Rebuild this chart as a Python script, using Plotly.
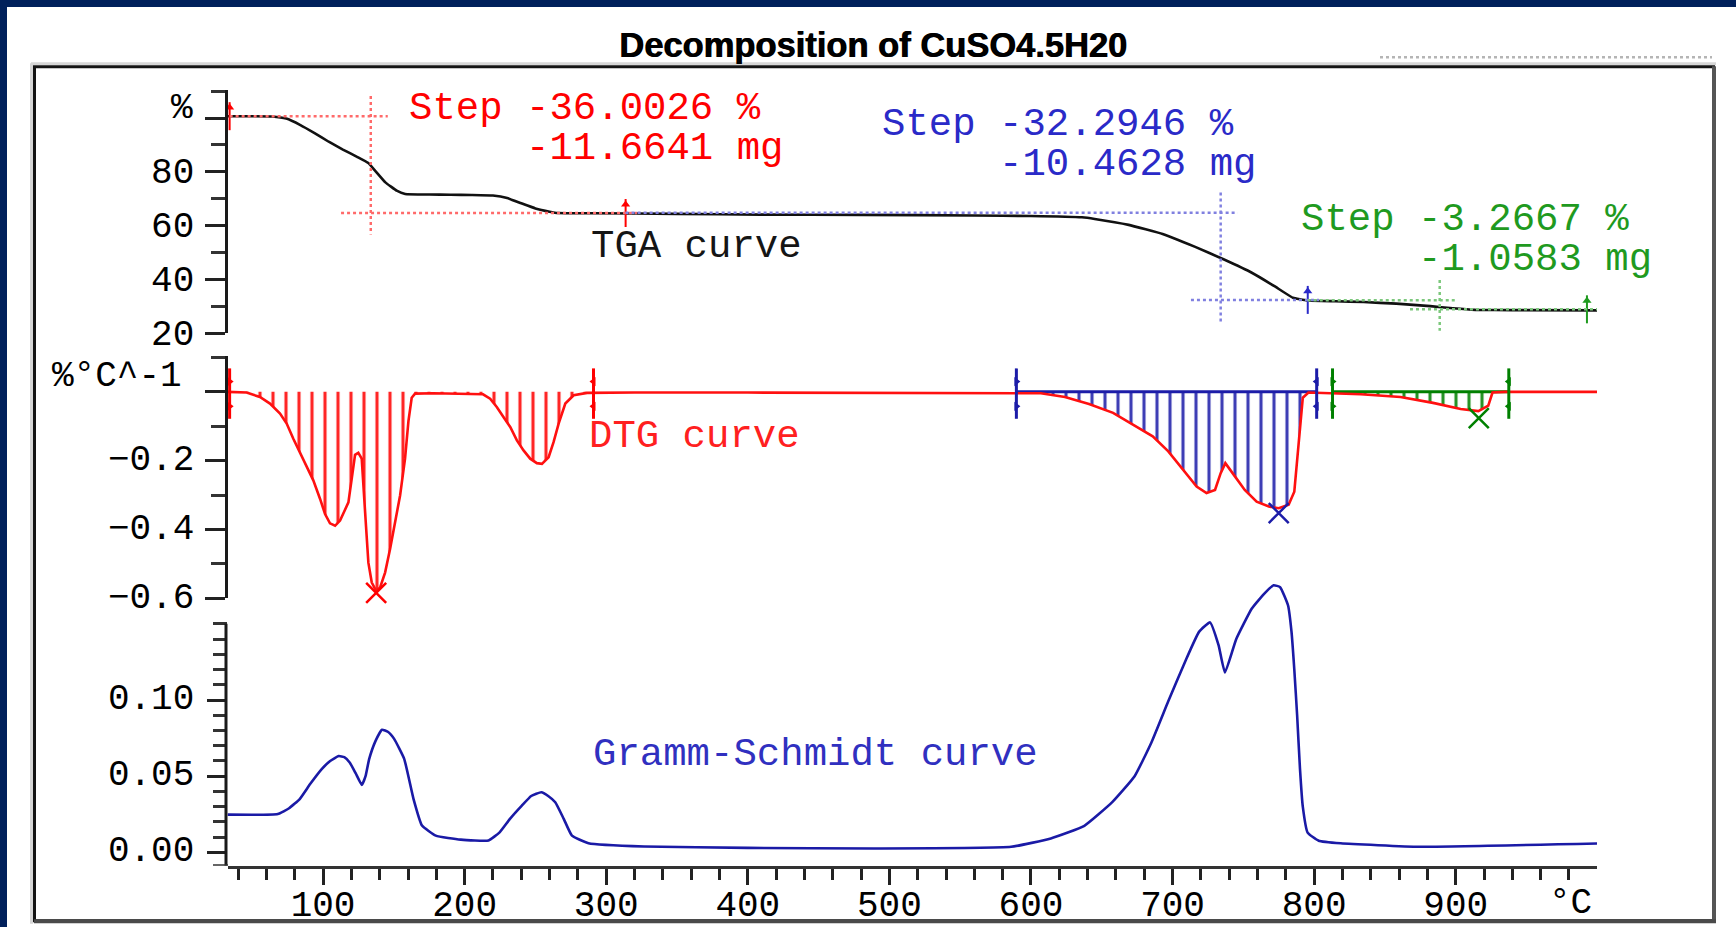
import plotly.graph_objects as go

W = 1736
H = 950                      # page height of the figure
EFF = H * 936 / 962          # height it occupies in the photographed picture


def px(x):
    return x / W


def py(y):
    return 1 - y / EFF


# ---------------- data ----------------
# TGA curve (temperature in degC, mass in %)
tga_T = [32.5, 50, 64, 74, 84, 94, 104, 114, 124, 132, 137, 144, 152, 158, 175,
         190, 205, 220, 230, 240, 250, 260, 266, 290, 350, 409, 480, 560, 600,
         636, 645, 669, 693, 716, 736, 756, 772, 785, 795, 815, 835, 858, 882,
         898, 914, 940, 1000]
tga_v = [100.7, 100.7, 100.6, 99.8, 97.4, 94.4, 91.2, 88.3, 85.6, 83.3, 80.3,
         76.1, 73.0, 71.8, 71.6, 71.5, 71.4, 71.2, 70.3, 68.3, 66.4, 65.2, 64.7,
         64.6, 64.4, 64.1, 64.0, 63.8, 63.6, 63.1, 62.5, 60.3, 56.9, 52.1, 47.5,
         42.5, 37.5, 33.2, 32.2, 31.9, 31.6, 31.0, 30.1, 29.3, 28.7, 28.6, 28.5]

# DTG curve (%/degC)
dtg_T = [32.5, 36.6, 46, 55.4, 62.5, 69.6, 74.3, 79, 83.7, 88.4,
         93.1, 97.9, 101.4, 104.9, 108.5, 112, 115.5, 117.9, 120.2, 122.6,
         124.9, 127.3, 129.7, 132, 134.4, 137.5, 140.3, 143.8, 147.3, 150.9,
         154.4, 157.9, 160.3, 162.6, 165, 178, 213, 218, 222.7, 227.4,
         232.2, 236.9, 241.6, 246.3, 251, 254.6, 259.3, 262.8, 266.4, 271.1,
         277, 286.5, 320, 400, 500, 560, 590, 607, 624, 641,
         658, 672, 686, 697, 708.5, 717, 724, 730, 734, 737.3,
         742.4, 751, 759.4, 768, 775, 782, 786, 789, 792, 796,
         813, 833, 861, 884, 903.5, 916, 923, 926, 935, 960,
         1000]
dtg_v = [0.0, 0.0, -0.002, -0.015, -0.034, -0.063, -0.092, -0.136, -0.175, -0.214,
         -0.257, -0.311, -0.355, -0.382, -0.389, -0.374, -0.345, -0.321, -0.253, -0.183,
         -0.177, -0.194, -0.35, -0.496, -0.554, -0.578, -0.568, -0.525, -0.457, -0.379,
         -0.301, -0.194, -0.085, -0.017, -0.005, -0.004, -0.007, -0.02, -0.044, -0.073,
         -0.102, -0.141, -0.17, -0.194, -0.207, -0.209, -0.19, -0.146, -0.092, -0.034,
         -0.01, -0.003, -0.002, -0.002, -0.002, -0.002, -0.002, -0.004, -0.015, -0.035,
         -0.061, -0.095, -0.129, -0.173, -0.231, -0.275, -0.294, -0.285, -0.236, -0.207,
         -0.236, -0.285, -0.319, -0.333, -0.338, -0.328, -0.29, -0.153, -0.017, -0.002,
         -0.004, -0.007, -0.015, -0.032, -0.05, -0.056, -0.04, -0.002, 0.0, 0.0,
         0.0]

# Gramm-Schmidt curve
gs_T = [32.5, 68, 76, 83.5, 91, 99.2, 105, 111, 115, 118.8,
        123, 127.4, 130, 132.5, 137, 141.6, 146, 150.2, 157.3, 163.9,
        169.9, 179.6, 197.3, 216.9, 224.7, 232, 240.4, 247, 254.2, 259,
        264, 270, 275.8, 287.5, 326.7, 400, 489, 586, 614, 637.7,
        657.4, 673.2, 685, 696.9, 708.8, 718.7, 726.5, 732.5, 737, 745,
        756, 765, 771.4, 776, 781.6, 784, 786, 788, 790, 792,
        795.4, 803.2, 818.8, 874.4, 1000]
gs_v = [0.0248, 0.0252, 0.029, 0.035, 0.045, 0.0548, 0.060, 0.0632, 0.0625, 0.059,
        0.052, 0.0443, 0.050, 0.061, 0.073, 0.0805, 0.079, 0.0745, 0.0614, 0.035,
        0.0176, 0.011, 0.0084, 0.0079, 0.0132, 0.022, 0.0307, 0.037, 0.0395, 0.037,
        0.0329, 0.022, 0.011, 0.0061, 0.0039, 0.003, 0.0026, 0.0037, 0.0092, 0.0175,
        0.033, 0.05, 0.072, 0.099, 0.125, 0.1447, 0.1509, 0.136, 0.118, 0.140,
        0.160, 0.170, 0.1753, 0.174, 0.162, 0.145, 0.12, 0.09, 0.055, 0.03,
        0.013, 0.0077, 0.006, 0.0037, 0.0059]

# Step evaluation (TGA)
step_colors = ["#ff0000", "#2a2ac8", "#1f9a1f"]
step_dot_colors = ["#ff6a6a", "#8080e0", "#7cc87c"]
step_left_T = [34, 313.7, 795.5]
step_right_T = [313.7, 795.5, 992.7]
step_mid_T = [133.7, 734, 888.7]
step_upper = [100.7, 64.8, 32.3]
step_lower = [64.7, 32.4, 28.9]
step_pct = ["-36.0026", "-32.2946", "-3.2667"]
step_mg = ["-11.6641", "-10.4628", "-1.0583"]

# DTG integration ranges and peaks
dtg_colors = ["#ff0000", "#1c1ca8", "#008000"]
dtg_start_T = [34, 589.7, 813]
dtg_end_T = [291, 801.8, 937.5]
dtg_peak_T = [137.5, 775, 916.3]
dtg_peak_v = [-0.584, -0.352, -0.076]

# axes ticks
x_major = [100, 200, 300, 400, 500, 600, 700, 800, 900]
tga_ticks = [20, 40, 60, 80, 100]
tga_labels = ["20", "40", "60", "80", ""]
dtg_ticks = [0, -0.2, -0.4, -0.6]
dtg_labels = ["", "\u22120.2", "\u22120.4", "\u22120.6"]
gs_ticks = [0.0, 0.05, 0.10]
gs_labels = ["0.00", "0.05", "0.10"]
gs_minor = [0.01, 0.02, 0.03, 0.04, 0.06, 0.07, 0.08, 0.09, 0.11, 0.12, 0.13, 0.14, 0.15]

GS_MIN, GS_AXTOP, GS_TOP = -0.0087, 0.15, 0.19

# ---------------- figure ----------------
fig = go.Figure()
MONO = "Liberation Mono"
NBSP = "\u00a0"

# DTG hatched areas
for c, a, b in zip(dtg_colors, dtg_start_T, dtg_end_T):
    xs = [t for t in dtg_T if a <= t <= b]
    ys = [v for t, v in zip(dtg_T, dtg_v) if a <= t <= b]
    fig.add_trace(go.Scatter(
        x=xs, y=ys, xaxis="x", yaxis="y2", mode="lines",
        line=dict(width=0, color=c), fill="tozeroy", fillcolor="rgba(0,0,0,0)",
        fillpattern=dict(shape="|", fgcolor=c, size=13, solidity=0.24,
                         fgopacity=0.85, fillmode="replace",
                         bgcolor="rgba(0,0,0,0)"),
        hoverinfo="skip", showlegend=False))
    if c != dtg_colors[0]:
        fig.add_trace(go.Scatter(
            x=[a, b], y=[0, 0], xaxis="x", yaxis="y2", mode="lines",
            line=dict(width=3, color=c), showlegend=False, hoverinfo="skip"))

# DTG curve
fig.add_trace(go.Scatter(x=dtg_T, y=dtg_v, xaxis="x", yaxis="y2", mode="lines",
                         line=dict(color="#ff1010", width=2.6),
                         showlegend=False))

# DTG brackets and peak markers
for c, a, b, pt, pv in zip(dtg_colors, dtg_start_T, dtg_end_T, dtg_peak_T, dtg_peak_v):
    fig.add_trace(go.Scatter(
        x=[a, b], y=[-0.005, -0.005], xaxis="x", yaxis="y2", mode="markers",
        marker=dict(symbol="line-ns", size=36, color=c, line=dict(width=3, color=c)),
        cliponaxis=False, showlegend=False, hoverinfo="skip"))
    fig.add_trace(go.Scatter(
        x=[a, a, b, b], y=[0.03, -0.042, 0.03, -0.042], xaxis="x", yaxis="y2",
        mode="markers",
        marker=dict(symbol=["triangle-right", "triangle-right", "triangle-left", "triangle-left"],
                    size=8, color=c),
        cliponaxis=False, showlegend=False, hoverinfo="skip"))
    fig.add_trace(go.Scatter(
        x=[pt], y=[pv], xaxis="x", yaxis="y2", mode="markers",
        marker=dict(symbol="x-thin-open", size=20, color=c, line=dict(width=2.5, color=c)),
        cliponaxis=False, showlegend=False, hoverinfo="skip"))

# Gramm-Schmidt curve
fig.add_trace(go.Scatter(x=gs_T, y=gs_v, xaxis="x", yaxis="y3", mode="lines",
                         line=dict(color="#1a1aa6", width=2.6, shape="spline", smoothing=0.4),
                         showlegend=False))

# TGA curve
fig.add_trace(go.Scatter(x=tga_T, y=tga_v, xaxis="x", yaxis="y", mode="lines",
                         line=dict(color="#111111", width=2.6, shape="spline", smoothing=0.3),
                         showlegend=False))

shapes = []
annotations = []

# step dotted construction lines and arrows on the TGA curve
for i in range(3):
    dc = step_dot_colors[i]
    shapes.append(dict(type="line", xref="x", yref="y",
                       x0=max(step_left_T[i], 32.5), x1=step_mid_T[i] + 12,
                       y0=step_upper[i], y1=step_upper[i],
                       line=dict(color=dc, width=2.5, dash="dot")))
    shapes.append(dict(type="line", xref="x", yref="y",
                       x0=step_mid_T[i] - 21, x1=step_right_T[i] + 8,
                       y0=step_lower[i], y1=step_lower[i],
                       line=dict(color=dc, width=2.5, dash="dot")))
    shapes.append(dict(type="line", xref="x", yref="y",
                       x0=step_mid_T[i], x1=step_mid_T[i],
                       y0=step_upper[i] + 7.5, y1=step_lower[i] - 8,
                       line=dict(color=dc, width=2.5, dash="dot")))

arrow_T = [step_left_T[0], step_right_T[0], step_right_T[1], step_right_T[2]]
arrow_v = [step_upper[0], step_lower[0], step_lower[1], step_lower[2]]
arrow_c = [step_colors[0], step_colors[0], step_colors[1], step_colors[2]]
fig.add_trace(go.Scatter(x=arrow_T, y=arrow_v, xaxis="x", yaxis="y", mode="markers",
                         marker=dict(symbol="line-ns", size=20, color=arrow_c,
                                     line=dict(width=2, color=arrow_c)),
                         cliponaxis=False, showlegend=False, hoverinfo="skip"))
fig.add_trace(go.Scatter(x=arrow_T, y=[v + 3.2 for v in arrow_v], xaxis="x", yaxis="y",
                         mode="markers",
                         marker=dict(symbol="triangle-up", size=8, color=arrow_c),
                         cliponaxis=False, showlegend=False, hoverinfo="skip"))

# step texts: two lines each, line pitch from the base font size (31 * 1.3 ~ 40 px)
step_text_pos = [(407, 129), (879.6, 144.8), (1298.5, 239.8)]
for i in range(3):
    x1, ym = step_text_pos[i]
    big = '<span style="font-size:39px">'
    txt = (big + "Step " + step_pct[i] + " %</span><br>" +
           big + NBSP * 5 + step_mg[i] + " mg</span>")
    annotations.append(dict(xref="paper", yref="paper", x=px(x1), y=py(ym),
                            xanchor="left", yanchor="middle", align="left",
                            showarrow=False, text=txt,
                            font=dict(family=MONO, size=31, color=step_colors[i])))

curve_labels = [("TGA curve", 588.5, 246.3, "#151515"),
                ("DTG curve", 587, 436, "#ff2020"),
                ("Gramm-Schmidt curve", 591, 752.5, "#3030c0")]
for t, x, y, c in curve_labels:
    annotations.append(dict(xref="paper", yref="paper", x=px(x), y=py(y),
                            xanchor="left", yanchor="middle", showarrow=False,
                            text=t, font=dict(family=MONO, size=39, color=c)))

# unit labels and title
annotations += [
    dict(xref="paper", yref="paper", x=px(195), y=py(108), xanchor="right",
         yanchor="middle", showarrow=False, text="%",
         font=dict(family=MONO, size=36, color="#000")),
    dict(xref="paper", yref="paper", x=px(184), y=py(375), xanchor="right",
         yanchor="middle", showarrow=False, text="%°C^-1",
         font=dict(family=MONO, size=36, color="#000")),
    dict(xref="paper", yref="paper", x=px(1570), y=py(901), xanchor="center",
         yanchor="middle", showarrow=False, text="°C",
         font=dict(family=MONO, size=36, color="#000")),
    dict(xref="paper", yref="paper", x=px(873), y=py(45), xanchor="center",
         yanchor="middle", showarrow=False,
         text="<b>Decomposition of CuSO4.5H20</b>",
         font=dict(family="Liberation Sans", size=34.5, color="#000",
                   shadow="0.8px 0px 0px #000")),
]

# GS y axis line (only up to 0.15)
shapes.append(dict(type="line", xref="x domain", yref="y3", x0=-0.0011, x1=-0.0011,
                   y0=GS_MIN, y1=GS_AXTOP, line=dict(color="#1a1a1a", width=3)))
# small overhang of the x axis line to the left of the y axes
shapes.append(dict(type="line", xref="paper", yref="y3", x0=px(213), x1=px(228),
                   y0=GS_MIN, y1=GS_MIN, line=dict(color="#333", width=3)))

# frame, border and decoration
shapes += [
    dict(type="rect", xref="paper", yref="paper", x0=0, x1=px(7), y0=0, y1=1,
         line=dict(width=0), fillcolor="#00205b", layer="below"),
    dict(type="rect", xref="paper", yref="paper", x0=0, x1=1, y0=py(7), y1=1,
         line=dict(width=0), fillcolor="#00205b", layer="below"),
    dict(type="line", xref="paper", yref="paper", x0=px(31), x1=px(1716),
         y0=py(63.5), y1=py(63.5), line=dict(color="#d6d6d6", width=3)),
    dict(type="line", xref="paper", yref="paper", x0=px(31.5), x1=px(31.5),
         y0=py(63), y1=py(921), line=dict(color="#d6d6d6", width=3)),
    dict(type="rect", xref="paper", yref="paper", x0=px(34.5), x1=px(1713.5),
         y0=py(918), y1=py(66.5), line=dict(color="#141414", width=3)),
    dict(type="line", xref="paper", yref="paper", x0=px(1714), x1=px(1714),
         y0=py(66), y1=py(920), line=dict(color="#555555", width=4)),
    dict(type="line", xref="paper", yref="paper", x0=px(34), x1=px(1716),
         y0=py(918.5), y1=py(918.5), line=dict(color="#4a4a4a", width=4)),
    dict(type="line", xref="paper", yref="paper", x0=px(1380), x1=px(1712),
         y0=py(57), y1=py(57), line=dict(color="#b5b5b5", width=2.5, dash="dot")),
]

tickfont = dict(family=MONO, size=36, color="#000")
axis_common = dict(ticks="outside", tickwidth=2.5, tickcolor="#222", showgrid=False,
                   zeroline=False, tickfont=tickfont, fixedrange=True)

fig.update_layout(
    width=W, height=H, margin=dict(l=0, r=0, t=0, b=0),
    paper_bgcolor="white", plot_bgcolor="rgba(0,0,0,0)", showlegend=False,
    xaxis=dict(domain=[px(227.5), px(1597)], range=[32.5, 999.8], anchor="y3",
               tickvals=x_major, ticktext=[str(v) for v in x_major], ticklen=16,
               showline=True, linecolor="#333", linewidth=3, ticklabelstandoff=-12,
               minor=dict(dtick=20, tick0=0, ticklen=11, tickwidth=2.5,
                          tickcolor="#222", ticks="outside"),
               **axis_common),
    yaxis=dict(domain=[py(332.3), py(89.3)], range=[20, 110.6], anchor="x",
               tickvals=tga_ticks, ticktext=tga_labels, ticklen=20,
               showline=True, linecolor="#1a1a1a", linewidth=3, ticklabelstandoff=3,
               ticklabelshift=-1,
               minor=dict(dtick=10, tick0=0, ticklen=14, tickwidth=2.5,
                          tickcolor="#333", ticks="outside"),
               **axis_common),
    yaxis2=dict(domain=[py(596.7), py(355)], range=[-0.6, 0.1041], anchor="x",
                tickvals=dtg_ticks, ticktext=dtg_labels, ticklen=20,
                showline=True, linecolor="#1a1a1a", linewidth=3, ticklabelstandoff=3,
                ticklabelshift=-3,
                minor=dict(dtick=0.1, tick0=0, ticklen=14, tickwidth=2.5,
                           tickcolor="#333", ticks="outside"),
                **axis_common),
    yaxis3=dict(domain=[py(863.2), py(863.2 - (GS_TOP - GS_MIN) * 1520)],
                range=[GS_MIN, GS_TOP], anchor="x",
                tickvals=gs_ticks, ticktext=gs_labels, ticklen=20,
                showline=False, ticklabelstandoff=5, ticklabelshift=-4,
                minor=dict(tickvals=gs_minor, ticklen=14, tickwidth=2.5,
                           tickcolor="#333", ticks="outside"),
                **axis_common),
    shapes=shapes, annotations=annotations,
)

fig.write_html("out.html")
